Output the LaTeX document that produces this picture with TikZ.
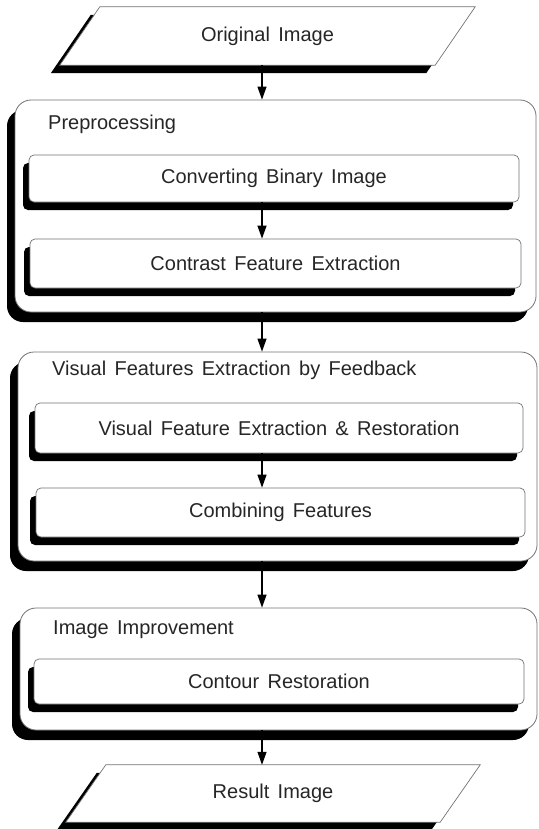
\documentclass[tikz,border=0pt]{standalone}
\usepackage{fontspec}
\setmainfont{Liberation Sans}[WordSpace=1.5]
\usetikzlibrary{shadows,arrows.meta,backgrounds}
\begin{document}
\begin{tikzpicture}[x=1pt,y=-1pt,>={Triangle[length=13pt,width=9pt]},
	font=\fontsize{20}{22}\selectfont, line join=round,
	groupbox/.style={draw=black!55,line width=.8pt,fill=white,rounded corners=16pt,inner sep=0pt,
		drop shadow={shadow xshift=-8pt,shadow yshift=-10pt,opacity=1,fill=black}},
	procbox/.style={draw=black!55,line width=.7pt,fill=white,rounded corners=5pt,inner sep=0pt,
		text=black!85,drop shadow={shadow xshift=-6pt,shadow yshift=-8pt,opacity=1,fill=black}},
	iotext/.style={inner sep=0pt,text=black!85},
	iobox/.style={draw=black!55,line width=.7pt,fill=white,
		drop shadow={shadow xshift=-9pt,shadow yshift=-8pt,opacity=1,fill=black}},
	grouptitle/.style={anchor=west,inner sep=0pt,text=black!85},
	flowarrow/.style={->,line width=1.2pt}]
	\useasboundingbox (0,0) rectangle (538,829);
	\coordinate (axis) at (262,0);
	% input and output
	\node[iotext,minimum width=335pt,minimum height=58pt] (orig) at (267.5,36) {Original Image};
	\node[iotext,minimum width=334pt,minimum height=57pt] (res) at (273,793.5) {Result Image};
	\begin{scope}[on background layer]
		\foreach \n in {orig,res}
		\path[iobox] ([xshift=-40pt]\n.south west) -- (\n.north west) -- ([xshift=40pt]\n.north east)
			-- (\n.south east) -- cycle;
	\end{scope}
	% preprocessing
	\node[groupbox,minimum width=521pt,minimum height=212pt] (pre) at (275.5,206) {};
	\node[grouptitle] (pretitle) at (48,124) {Preprocessing};
	\node[procbox,minimum width=490pt,minimum height=47pt] (conv) at (274,178.5) {Converting Binary Image};
	\node[procbox,minimum width=491pt,minimum height=49pt] (contr) at (275.5,263.5) {Contrast Feature Extraction};
	% feedback
	\node[groupbox,minimum width=519pt,minimum height=209pt] (vis) at (277.5,456.5) {};
	\node[grouptitle] (vistitle) at (52,370) {Visual Features Extraction by Feedback};
	\node[procbox,minimum width=488pt,minimum height=50pt] (vfer) at (279,428) {Visual Feature Extraction \& Restoration};
	\node[procbox,minimum width=489pt,minimum height=49pt] (comb) at (280.5,512.5) {Combining Features};
	% improvement
	\node[groupbox,minimum width=517pt,minimum height=122pt] (imp) at (278.5,669) {};
	\node[grouptitle] (imptitle) at (53,630) {Image Improvement};
	\node[procbox,minimum width=490pt,minimum height=45pt] (cont) at (279,681.5) {Contour Restoration};
	% arrows
	\draw[flowarrow] (orig.south -| axis) -- (pre.north -| axis);
	\draw[flowarrow] (conv.south -| axis) -- (contr.north -| axis);
	\draw[flowarrow] (pre.south -| axis) -- (vis.north -| axis);
	\draw[flowarrow] (vfer.south -| axis) -- (comb.north -| axis);
	\draw[flowarrow] (vis.south -| axis) -- (imp.north -| axis);
	\draw[flowarrow] (imp.south -| axis) -- (res.north -| axis);
\end{tikzpicture}
\end{document}
